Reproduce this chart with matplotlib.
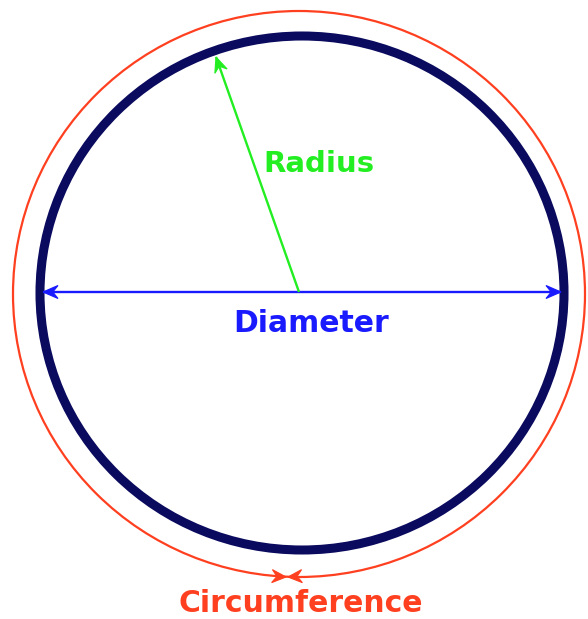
import numpy as np
import matplotlib
matplotlib.use("Agg")
import matplotlib.pyplot as plt
from matplotlib.patches import Ellipse, Polygon

# geometry (pixel units, y going down)
center = (302, 293)
inner_radii = (262, 257)
outer_center = (299, 294)
outer_radii = (286, 283)
radius_tip = (216, 57)
labels = ["Radius", "Diameter", "Circumference"]

navy = "#0a0a5e"
red = "#ff4020"
green = "#22ee22"
blue = "#1a1aff"


def stealth(ax, tip, tail, color, length=12, width=9):
    # barbed arrow head with a notched back, pointing from tail to tip
    tip = np.array(tip, float)
    d = tip - np.array(tail, float)
    d /= np.hypot(*d)
    n = np.array([-d[1], d[0]])
    back = tip - d * length
    pts = [tip, back + n * width / 2, tip - d * length * 0.65, back - n * width / 2]
    ax.add_patch(Polygon(pts, closed=True, fc=color, ec=color, lw=0.8))


def arrow_line(ax, p0, p1, color, lw=1.7):
    ax.plot([p0[0], p1[0]], [p0[1], p1[1]], color=color, lw=lw, solid_capstyle="butt")


fig = plt.figure(figsize=(5.88, 6.19), dpi=100)
ax = fig.add_axes([0, 0, 1, 1])
ax.set_xlim(0, 588)
ax.set_ylim(619, 0)
ax.axis("off")

# outer circumference and the thick circle
ax.add_patch(Ellipse(outer_center, 2 * outer_radii[0], 2 * outer_radii[1],
                     fill=False, ec=red, lw=1.6))
ax.add_patch(Ellipse(center, 2 * inner_radii[0], 2 * inner_radii[1],
                     fill=False, ec=navy, lw=6.5))

# diameter
left = (center[0] - inner_radii[0] + 3, center[1] - 1)
right = (center[0] + inner_radii[0] - 3, center[1] - 1)
arrow_line(ax, left, right, blue)
stealth(ax, left, right, blue, length=15, width=13)
stealth(ax, right, left, blue, length=15, width=13)

# radius
start = (299, 292)
arrow_line(ax, start, radius_tip, green)
stealth(ax, radius_tip, start, green, length=15, width=13)

# arrows on the circumference near the bottom
by = outer_center[1] + outer_radii[1]
stealth(ax, (286, by), (262, by - 1.5), red, length=14, width=13)
stealth(ax, (288, by), (312, by - 1.5), red, length=14, width=13)

font = dict(family="DejaVu Sans", weight="bold", ha="center", va="center")
ax.text(319, 164, labels[0], color=green, fontsize=21, **font)
ax.text(311, 323, labels[1], color=blue, fontsize=21.5, **font)
ax.text(301, 603, labels[2], color=red, fontsize=21.5, **font)

fig.savefig("out.png", dpi=100)
